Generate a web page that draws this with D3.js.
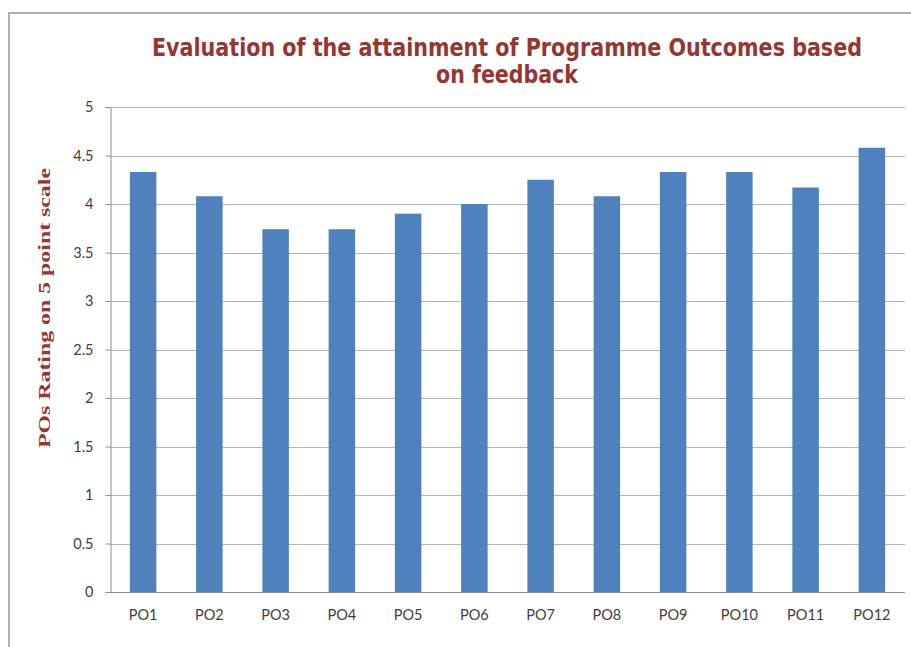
<!DOCTYPE html>
<html>
<head>
<meta charset="utf-8">
<script src="https://cdn.jsdelivr.net/npm/d3@7"></script>
<style>
  html, body { margin: 0; padding: 0; background: #fff; }
  svg { display: block; }
</style>
</head>
<body>
<svg id="chart" width="911" height="647"></svg>
<script>
const categories = ["PO1","PO2","PO3","PO4","PO5","PO6","PO7","PO8","PO9","PO10","PO11","PO12"];
const ratings = [4.33, 4.08, 3.74, 3.74, 3.9, 4.0, 4.25, 4.08, 4.33, 4.33, 4.17, 4.58];
const yTicks = [0, 0.5, 1, 1.5, 2, 2.5, 3, 3.5, 4, 4.5, 5];
const titleLines = ["Evaluation of the attainment of Programme Outcomes based", "on feedback"];
const yTitle = "POs Rating on 5 point scale";

const svg = d3.select("#chart");
const W = 911, H = 647;
const m = { left: 110, right: 6, top: 107, bottom: 55 };
const plotW = W - m.left - m.right, plotH = H - m.top - m.bottom;

svg.append("rect").attr("width", W).attr("height", H).attr("fill", "#fff");

// outer frame (left and top edges visible)
svg.append("path")
  .attr("d", `M9,${H} L9,13 L${W},13`)
  .attr("fill", "none").attr("stroke", "#b0b0b0").attr("stroke-width", 2);

const x = d3.scaleBand().domain(categories).range([m.left, m.left + plotW]).paddingInner(0.6).paddingOuter(0.3);
const y = d3.scaleLinear().domain([0, 5]).range([m.top + plotH, m.top]);

// gridlines
svg.append("g").selectAll("line").data(yTicks.filter(t => t > 0)).join("line")
  .attr("x1", m.left).attr("x2", m.left + plotW)
  .attr("y1", d => Math.round(y(d)) + 0.5).attr("y2", d => Math.round(y(d)) + 0.5)
  .attr("stroke", "#b3b3b3").attr("stroke-width", 1);

// bars
svg.append("g").selectAll("rect").data(ratings).join("rect")
  .attr("x", (d, i) => x(categories[i]))
  .attr("width", x.bandwidth())
  .attr("y", d => y(d))
  .attr("height", d => y(0) - y(d))
  .attr("fill", "#4f81bd");

// y axis
const yAxis = svg.append("g")
  .attr("transform", `translate(${m.left + 0.5},0)`)
  .call(d3.axisLeft(y).tickValues(yTicks).tickSize(5).tickPadding(12).tickFormat(d3.format("")));
yAxis.selectAll("path, line").attr("stroke", "#8c8c8c");
yAxis.selectAll("text").attr("fill", "#404040").style("font-family", "Lato, 'Open Sans', sans-serif").style("font-size", "14.5px");

// x axis baseline + labels
const xAxis = svg.append("g")
  .attr("transform", `translate(0,${Math.round(y(0)) + 0.5})`)
  .call(d3.axisBottom(x).tickSize(0).tickPadding(17));
xAxis.select("path").attr("stroke", "#8c8c8c").attr("d", `M${m.left},0H${m.left + plotW}`);
xAxis.selectAll("text").attr("fill", "#404040").style("font-family", "Lato, 'Open Sans', sans-serif").style("font-size", "14.5px");

// title
const title = svg.append("g").attr("fill", "#943634")
  .style("font-family", "'DejaVu Sans', sans-serif")
  .style("font-stretch", "condensed")
  .style("font-weight", "bold").style("font-size", "24px");
title.append("text").attr("x", 507).attr("y", 56).attr("text-anchor", "middle")
  .attr("textLength", 710).attr("lengthAdjust", "spacingAndGlyphs").text(titleLines[0]);
title.append("text").attr("x", 507).attr("y", 83).attr("text-anchor", "middle")
  .attr("textLength", 142).attr("lengthAdjust", "spacingAndGlyphs").text(titleLines[1]);

// y title
svg.append("text")
  .attr("transform", `translate(50,308) rotate(-90)`)
  .attr("text-anchor", "middle")
  .attr("fill", "#943634")
  .style("font-family", "'Liberation Serif', 'DejaVu Serif', serif")
  .style("font-weight", "bold").style("font-size", "17px")
  .attr("textLength", 280).attr("lengthAdjust", "spacingAndGlyphs")
  .text(yTitle);
</script>
</body>
</html>
